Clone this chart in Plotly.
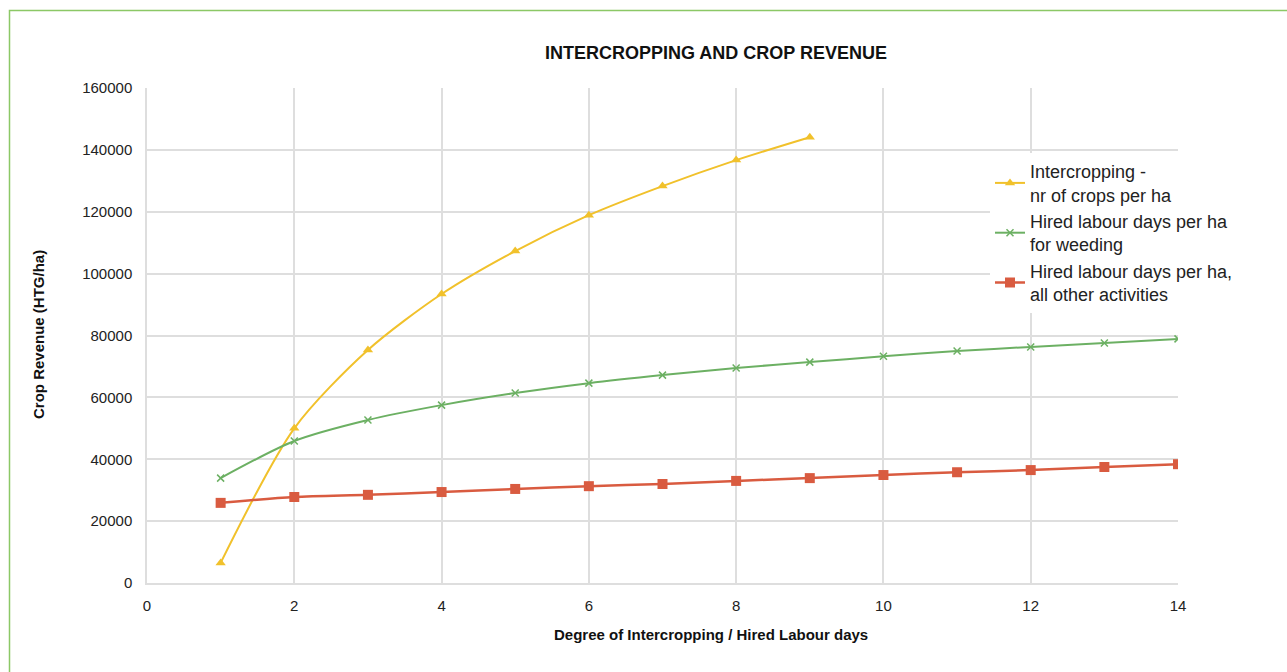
import plotly.graph_objects as go

# Degree of intercropping / hired labour days
x_intercrop = [1, 2, 3, 4, 5, 6, 7, 8, 9]
x_labour = [1, 2, 3, 4, 5, 6, 7, 8, 9, 10, 11, 12, 13, 14]

# Crop revenue (HTG/ha)
rev_intercrop = [6500, 50000, 75300, 93400, 107300, 118900, 128300, 136700, 144100]
rev_weeding = [33900, 45900, 52700, 57500, 61400, 64600, 67200, 69500, 71400,
               73300, 75000, 76300, 77600, 78900]
rev_other = [25900, 27800, 28500, 29400, 30400, 31300, 32000, 33000, 33900,
             34900, 35800, 36500, 37500, 38400]

y_ticks = [0, 20000, 40000, 60000, 80000, 100000, 120000, 140000, 160000]
x_ticks = [0, 2, 4, 6, 8, 10, 12, 14]

YELLOW = "#F1C12B"
GREEN = "#6CB063"
RED = "#D95B40"
GRID = "#DEDEDE"
FONT = "Liberation Sans, Arial, sans-serif"

fig = go.Figure()

fig.add_trace(go.Scatter(
    x=x_intercrop, y=rev_intercrop, mode="lines+markers",
    name="Intercropping -<br>nr of crops per ha",
    line=dict(color=YELLOW, width=2, shape="spline", smoothing=0.8),
    marker=dict(symbol="triangle-up", size=9, color=YELLOW),
))
fig.add_trace(go.Scatter(
    x=x_labour, y=rev_weeding, mode="lines+markers",
    name="Hired labour days per ha<br>for weeding",
    line=dict(color=GREEN, width=2, shape="spline", smoothing=0.8),
    marker=dict(symbol="x-thin-open", size=7, color=GREEN,
                line=dict(color=GREEN, width=1.5)),
))
fig.add_trace(go.Scatter(
    x=x_labour, y=rev_other, mode="lines+markers",
    name="Hired labour days per ha,<br>all other activities",
    line=dict(color=RED, width=2.5, shape="spline", smoothing=0.8),
    marker=dict(symbol="square", size=10, color=RED),
))

L, R, T, B = 147, 109, 88, 89
W, H = 1287, 672
pw, ph = W - L - R, H - T - B


def px(xp):
    return (xp - L) / pw


def py(yp):
    return (H - B - yp) / ph


fig.update_layout(
    width=W, height=H,
    margin=dict(l=L, r=R, t=T, b=B, pad=0),
    paper_bgcolor="white", plot_bgcolor="white",
    font=dict(family=FONT, color="#222222", size=14),
    showlegend=True,
    legend=dict(
        x=px(990), y=py(153), xanchor="left", yanchor="top",
        bgcolor="white", font=dict(size=18, color="#222222", family=FONT),
        tracegroupgap=0, itemwidth=30,
    ),
    xaxis=dict(
        range=[0, 14], tickvals=x_ticks, ticktext=[str(v) for v in x_ticks],
        showgrid=True, gridcolor=GRID, gridwidth=1.5,
        showline=True, linecolor=GRID, linewidth=1.5,
        zeroline=False, ticks="", tickfont=dict(size=15, color="#222222"),
        ticklabelstandoff=8,
    ),
    yaxis=dict(
        range=[0, 160000], tickvals=y_ticks, ticktext=[str(v) for v in y_ticks],
        showgrid=True, gridcolor=GRID, gridwidth=1.5,
        showline=True, linecolor=GRID, linewidth=1.5,
        zeroline=False, ticks="", tickfont=dict(size=15, color="#222222"),
        ticklabelstandoff=10,
    ),
    annotations=[
        dict(text="<b>INTERCROPPING AND CROP REVENUE</b>", xref="paper", yref="paper",
             x=px(716), y=py(53), xanchor="center", yanchor="middle",
             showarrow=False, font=dict(size=18, color="#111111", family=FONT)),
        dict(text="<b>Degree of Intercropping / Hired Labour days</b>", xref="paper",
             yref="paper", x=px(711), y=py(634), xanchor="center", yanchor="middle",
             showarrow=False, font=dict(size=15, color="#111111", family=FONT)),
        dict(text="<b>Crop Revenue (HTG/ha)</b>", xref="paper", yref="paper",
             x=px(38), y=py(335), xanchor="center", yanchor="middle", textangle=-90,
             showarrow=False, font=dict(size=15, color="#111111", family=FONT)),
    ],
    shapes=[
        dict(type="rect", xref="paper", yref="paper",
             x0=px(9.5), y0=py(700), x1=px(1300), y1=py(10.5),
             line=dict(color="#8CC866", width=1.5), fillcolor="rgba(0,0,0,0)",
             layer="below"),
    ],
)

fig.write_html("out.html")
